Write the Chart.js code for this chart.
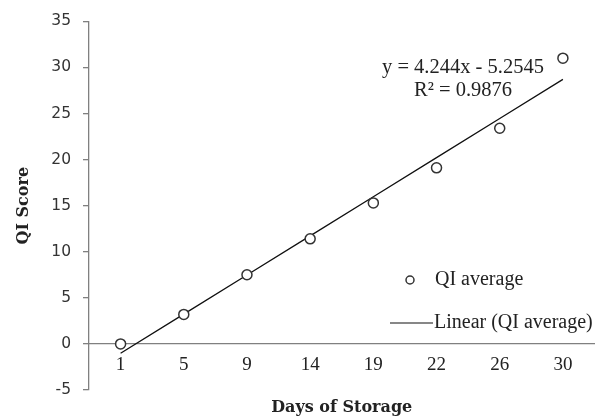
<!DOCTYPE html>
<html>
<head>
<meta charset="utf-8">
<script src="https://cdn.jsdelivr.net/npm/chart.js@4.4.0/dist/chart.umd.min.js"></script>
<style>
  html, body { margin: 0; padding: 0; background: #fff; }
  #wrap { width: 601px; height: 417px; }
</style>
</head>
<body>
<div id="wrap"><canvas id="chart" width="601" height="417"></canvas></div>
<script>
// Daten
const tage = ['1', '5', '9', '14', '19', '22', '26', '30'];
const qiDurchschnitt = [0, 3.2, 7.5, 11.4, 15.3, 19.1, 23.4, 31.0];
const yTicks = [-5, 0, 5, 10, 15, 20, 25, 30, 35];

// Trendlinie (Excel, x = Index 1..8)
const steigung = 4.244;
const achsenabschnitt = -5.2545;
const bestimmtheit = 0.9876;
const trendlinie = tage.map((t, i) => steigung * (i + 1) + achsenabschnitt);

const serif = '"Liberation Serif", "Times New Roman", serif';

// Gleichung und Legende direkt auf die Zeichenfläche
const textPlugin = {
    id: 'textPlugin',
    afterDraw(chart) {
        const ctx = chart.ctx;
        const a = chart.chartArea;
        ctx.save();
        ctx.fillStyle = '#222';
        ctx.font = '20.5px ' + serif;
        ctx.textBaseline = 'middle';
        ctx.textAlign = 'center';
        ctx.fillText('y = 4.244x - 5.2545', a.left + 374, 68);
        ctx.fillText('R² = ' + bestimmtheit, a.left + 374, 91);

        // Legende
        ctx.font = '20px ' + serif;
        ctx.textAlign = 'left';
        ctx.beginPath();
        ctx.arc(a.left + 321, 280, 4, 0, Math.PI * 2);
        ctx.strokeStyle = '#333';
        ctx.lineWidth = 1.5;
        ctx.stroke();
        ctx.fillText('QI average', a.left + 346, 280);

        ctx.beginPath();
        ctx.moveTo(a.left + 301, 323);
        ctx.lineTo(a.left + 344, 323);
        ctx.strokeStyle = '#111';
        ctx.lineWidth = 1.2;
        ctx.stroke();
        ctx.fillText('Linear (QI average)', a.left + 345, 323);
        ctx.restore();
    }
};

new Chart(document.getElementById('chart'), {
    type: 'line',
    data: {
        labels: tage,
        datasets: [{
            label: 'QI average',
            data: qiDurchschnitt,
            showLine: false,
            pointRadius: 5,
            pointBorderWidth: 1.5,
            pointBorderColor: '#333',
            pointBackgroundColor: '#fff',
            order: 1
        }, {
            label: 'Linear (QI average)',
            data: trendlinie,
            borderColor: '#111',
            borderWidth: 1.3,
            pointRadius: 0,
            fill: false,
            tension: 0,
            order: 2
        }]
    },
    options: {
        responsive: false,
        animation: false,
        layout: { padding: { top: 20, right: 4, left: 0, bottom: 0 } },
        plugins: {
            legend: { display: false },
            tooltip: { enabled: false }
        },
        scales: {
            x: {
                type: 'category',
                position: { y: 0 },
                offset: true,
                grid: { display: false, drawTicks: false },
                border: { display: true, color: '#808080', width: 1.3 },
                ticks: {
                    color: '#222',
                    padding: 10,
                    font: { family: serif, size: 19 }
                }
            },
            x2: {
                type: 'category',
                position: 'bottom',
                labels: tage,
                offset: true,
                grid: { display: false, drawTicks: false },
                border: { display: false },
                ticks: { display: false },
                title: {
                    display: true,
                    text: 'Days of Storage',
                    color: '#222',
                    padding: { top: 2, bottom: 0 },
                    font: { family: '"DejaVu Serif", serif', size: 16, weight: 'bold' }
                },
                afterFit(scale) { scale.height = 27; }
            },
            y: {
                min: -5,
                max: 35,
                afterBuildTicks(scale) { scale.ticks = yTicks.map(v => ({ value: v })); },
                grid: { drawOnChartArea: false, drawTicks: true, tickLength: 6, color: '#808080', lineWidth: 1.3 },
                border: { display: true, color: '#808080', width: 1.3 },
                ticks: {
                    color: '#333',
                    padding: 12,
                    font: { family: '"DejaVu Sans", sans-serif', size: 15.5 }
                },
                title: {
                    display: true,
                    text: 'QI Score',
                    color: '#222',
                    padding: { top: 14, bottom: 0 },
                    font: { family: '"DejaVu Serif", serif', size: 16, weight: 'bold' }
                },
                afterFit(scale) { scale.width = 89; }
            }
        }
    },
    plugins: [textPlugin]
});
</script>
</body>
</html>
